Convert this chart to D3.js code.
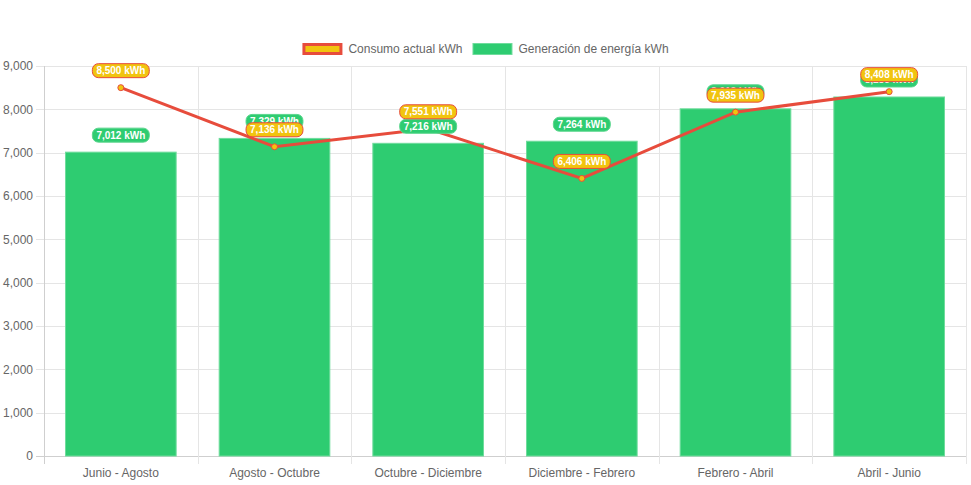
<!DOCTYPE html>
<html>
<head>
<meta charset="utf-8">
<script src="https://cdn.jsdelivr.net/npm/d3@7"></script>
<style>
  body { margin: 0; background: #fff; }
  text { font-family: "Liberation Sans", Arial, Helvetica, sans-serif; }
</style>
</head>
<body>
<div id="main"></div>
<script>
const periods = ["Junio - Agosto", "Agosto - Octubre", "Octubre - Diciembre", "Diciembre - Febrero", "Febrero - Abril", "Abril - Junio"];
const consumo = [8500, 7136, 7551, 6406, 7935, 8408];
const generacion = [7012, 7329, 7216, 7264, 8012, 8285];
const yTicks = [0, 1000, 2000, 3000, 4000, 5000, 6000, 7000, 8000, 9000];
const seriesNames = ["Consumo actual kWh", "Generación de energía kWh"];

const ctx = {
    width: 971,
    height: 485,
    left: 44,
    right: 966,
    top: 66,
    bottom: 456,
    red: "#e74c3c",
    yellow: "#f1c40f",
    green: "#2ecc71",
    grid: "#e5e5e5",
    textGrey: "#666"
};

function createViz(){
    let svg = d3.select("#main").append("svg")
        .attr("width", ctx.width)
        .attr("height", ctx.height);

    let x = d3.scaleBand().domain(periods).range([ctx.left, ctx.right]).padding(0);
    let y = d3.scaleLinear().domain([0, 9000]).range([ctx.bottom, ctx.top]);
    let fmt = d3.format(",");

    // grid
    let gridG = svg.append("g");
    gridG.selectAll(".hgrid").data(yTicks).enter().append("line")
        .attr("x1", ctx.left - 8).attr("x2", ctx.right)
        .attr("y1", d => Math.round(y(d)) + 0.5).attr("y2", d => Math.round(y(d)) + 0.5)
        .attr("stroke", d => d === 0 ? "#cfcfcf" : ctx.grid);
    let vlines = periods.map(p => x(p)).concat([ctx.right]);
    gridG.selectAll(".vgrid").data(vlines).enter().append("line")
        .attr("x1", d => Math.round(d) + 0.5).attr("x2", d => Math.round(d) + 0.5)
        .attr("y1", ctx.top).attr("y2", ctx.bottom + 8)
        .attr("stroke", (d, i) => i === 0 ? "#cfcfcf" : ctx.grid);

    // y labels
    svg.append("g").selectAll("text").data(yTicks).enter().append("text")
        .attr("x", ctx.left - 11)
        .attr("y", d => y(d))
        .attr("dy", "0.35em")
        .attr("text-anchor", "end")
        .attr("font-size", 12)
        .attr("fill", ctx.textGrey)
        .text(d => fmt(d));

    // x labels
    svg.append("g").selectAll("text").data(periods).enter().append("text")
        .attr("x", d => x(d) + x.bandwidth() / 2)
        .attr("y", ctx.bottom + 17)
        .attr("dy", "0.35em")
        .attr("text-anchor", "middle")
        .attr("font-size", 12)
        .attr("fill", ctx.textGrey)
        .text(d => d);

    // bars
    let barW = x.bandwidth() * 0.72;
    svg.append("g").selectAll("rect").data(generacion).enter().append("rect")
        .attr("x", (d, i) => x(periods[i]) + (x.bandwidth() - barW) / 2)
        .attr("y", d => y(d))
        .attr("width", barW)
        .attr("height", d => y(0) - y(d))
        .attr("fill", ctx.green)
        .attr("stroke", "#6fdc9c")
        .attr("stroke-width", 1);

    // line
    let cx = i => x(periods[i]) + x.bandwidth() / 2;
    let line = d3.line().x((d, i) => cx(i)).y(d => y(d));
    svg.append("path").datum(consumo)
        .attr("d", line)
        .attr("fill", "none")
        .attr("stroke", ctx.red)
        .attr("stroke-width", 3);
    svg.append("g").selectAll("circle").data(consumo).enter().append("circle")
        .attr("cx", (d, i) => cx(i))
        .attr("cy", d => y(d))
        .attr("r", 3)
        .attr("fill", ctx.yellow)
        .attr("stroke", ctx.red)
        .attr("stroke-width", 1);

    // data labels
    drawLabels(svg, generacion, cx, y, ctx.green, "#5ad68d", fmt);
    drawLabels(svg, consumo, cx, y, ctx.yellow, ctx.red, fmt);

    drawLegend(svg);
}

function drawLabels(svg, values, cx, y, fill, border, fmt){
    let g = svg.append("g");
    values.forEach((v, i) => {
        let lg = g.append("g").attr("transform", "translate(" + cx(i) + "," + (y(v) - 17) + ")");
        let t = lg.append("text")
            .attr("text-anchor", "middle")
            .attr("dy", "0.35em")
            .attr("font-size", 10)
            .attr("font-weight", "bold")
            .attr("fill", "white")
            .text(fmt(v) + " kWh");
        let w = t.node().getComputedTextLength() + 8;
        lg.insert("rect", "text")
            .attr("x", -w / 2).attr("y", -7)
            .attr("width", w).attr("height", 14)
            .attr("rx", 6).attr("ry", 6)
            .attr("fill", fill)
            .attr("stroke", border)
            .attr("stroke-width", 1);
    });
}

function drawLegend(svg){
    let legendG = svg.append("g");
    let items = [
        {name: seriesNames[0], fill: ctx.yellow, stroke: ctx.red, sw: 3},
        {name: seriesNames[1], fill: ctx.green, stroke: "#6fdc9c", sw: 1}
    ];
    let widths = [];
    let tmp = items.map(it => {
        let t = legendG.append("text").attr("font-size", 12).text(it.name);
        let w = t.node().getComputedTextLength();
        t.remove();
        return w;
    });
    items.forEach((it, i) => widths.push(40 + 6 + tmp[i]));
    let total = d3.sum(widths) + 10 * (items.length - 1);
    let xPos = (ctx.width - total) / 2;
    items.forEach((it, i) => {
        legendG.append("rect")
            .attr("x", xPos + it.sw / 2).attr("y", 43 + it.sw / 2)
            .attr("width", 40 - it.sw).attr("height", 12 - it.sw)
            .attr("fill", it.fill)
            .attr("stroke", it.stroke)
            .attr("stroke-width", it.sw);
        legendG.append("text")
            .attr("x", xPos + 46).attr("y", 49)
            .attr("dy", "0.35em")
            .attr("font-size", 12)
            .attr("fill", ctx.textGrey)
            .text(it.name);
        xPos += widths[i] + 10;
    });
}

createViz();
</script>
</body>
</html>
